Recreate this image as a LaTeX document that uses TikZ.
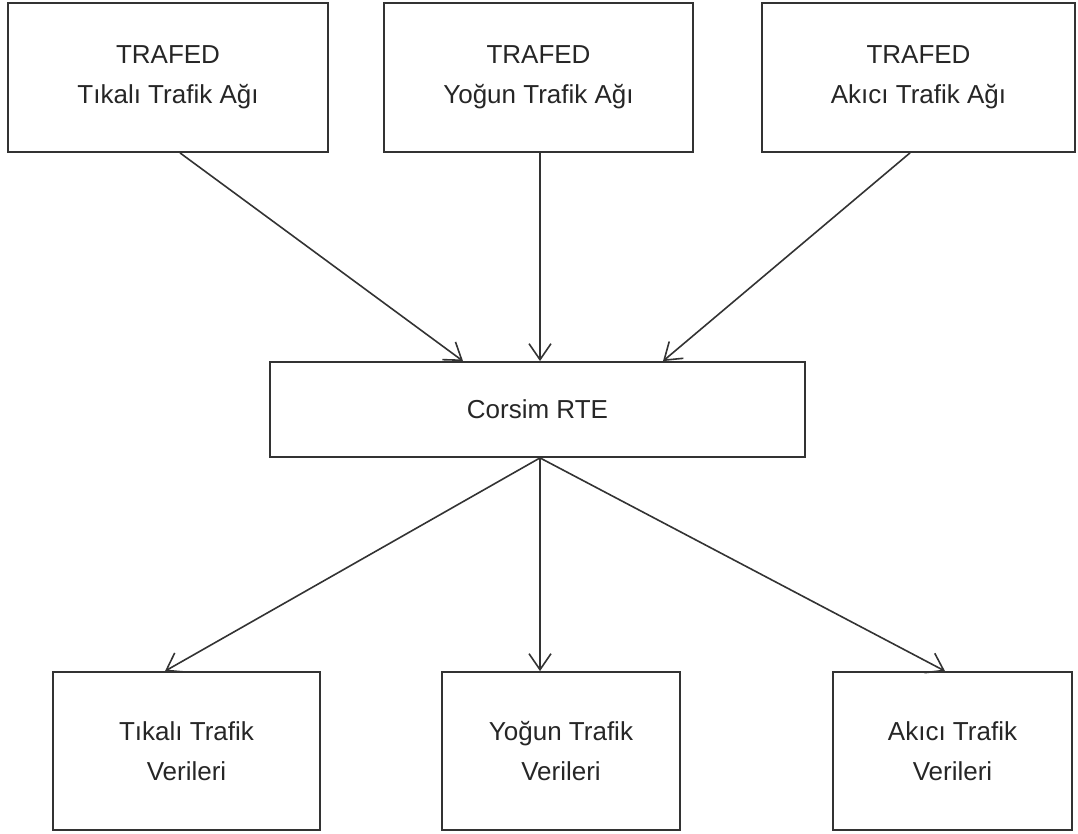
\documentclass[tikz,border=0pt]{standalone}
\usepackage{fontspec}
\setmainfont{Liberation Sans}
\usetikzlibrary{arrows.meta}

\tikzset{
  kutu/.style={draw=black!80, line width=1.8pt, rectangle, align=center,
    font=\fontsize{26pt}{40pt}\selectfont, text=black!85, inner sep=0pt},
  ok/.style={draw=black!80, line width=1.6pt,
    -{Straight Barb[length=16pt,width=22pt,line width=1.6pt]}}
}

\begin{document}
\begin{tikzpicture}[x=1pt,y=-1pt]
      \useasboundingbox (0,0) rectangle (1078,834);

      % ust kutular
      \node[kutu, minimum width=320pt, minimum height=149pt] (tikaliag) at (168,77.5) {TRAFED\\Tıkalı Trafik Ağı};
      \node[kutu, minimum width=309pt, minimum height=149pt] (yogunag) at (538.5,77.5) {TRAFED\\Yoğun Trafik Ağı};
      \node[kutu, minimum width=313pt, minimum height=149pt] (akiciag) at (918.5,77.5) {TRAFED\\Akıcı Trafik Ağı};

      % orta kutu
      \node[kutu, minimum width=535pt, minimum height=95pt] (corsim) at (537.5,409.5) {Corsim RTE};

      % alt kutular
      \node[kutu, minimum width=267pt, minimum height=158pt] (tikaliveri) at (186.5,751) {Tıkalı Trafik\\Verileri};
      \node[kutu, minimum width=238pt, minimum height=158pt] (yogunveri) at (561,751) {Yoğun Trafik\\Verileri};
      \node[kutu, minimum width=239pt, minimum height=158pt] (akiciveri) at (952.5,751) {Akıcı Trafik\\Verileri};

      \draw[ok] ([xshift=12pt]tikaliag.south) -- ([xshift=-74.5pt]corsim.north);
      \draw[ok] ([xshift=1.5pt]yogunag.south) -- ([xshift=2.5pt]corsim.north);
      \draw[ok] ([xshift=-8.5pt]akiciag.south) -- ([xshift=125.5pt]corsim.north);

      \draw[ok] ([xshift=2.5pt]corsim.south) -- ([xshift=-21.5pt]tikaliveri.north);
      \draw[ok] ([xshift=2.5pt]corsim.south) -- ([xshift=-21pt]yogunveri.north);
      \draw[ok] ([xshift=2.5pt]corsim.south) -- ([xshift=-7.5pt]akiciveri.north);
\end{tikzpicture}
\end{document}
